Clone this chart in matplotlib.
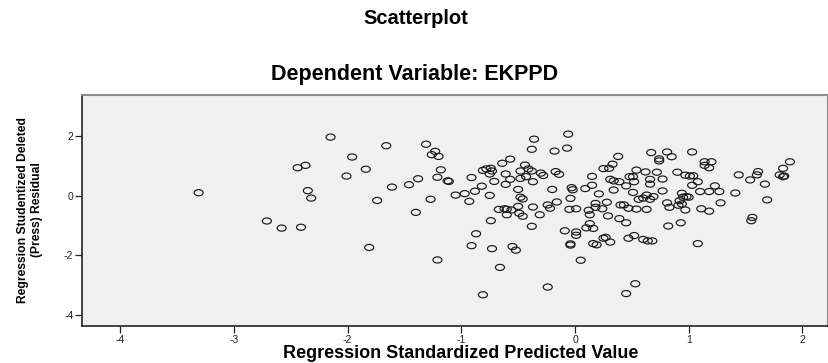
import matplotlib
matplotlib.use("Agg")
import matplotlib.pyplot as plt
from matplotlib.markers import MarkerStyle
from matplotlib.transforms import Affine2D

predicted = [
    -3.31, -2.44, -2.37, -2.35, -2.32, -2.71, -2.58, -2.41, -2.15, -1.66,
    -1.31, -1.23, -1.26, -1.20, -1.96, -1.84, -2.01, -1.61, -1.46, -1.38,
    -1.18, -1.21, -1.74, -1.27, -1.40, -1.81, -1.21, -1.12, -1.11,
    -0.36, -0.38, -0.57, -0.64, -0.44, -0.81, -0.78, -0.74, -0.73, -0.75,
    -0.61, -0.48, -0.41, -0.38, -0.30, -0.28, -0.91, -0.71, -0.57, -0.48,
    -0.43, -0.37, -0.61, -0.82, -0.88, -0.97, -1.05, -0.93, -0.75, -0.50,
    -0.48, -0.46, -0.50, -0.37, -0.67, -0.62, -0.60, -0.56, -0.60, -0.49,
    -0.46, -0.31, -0.74, -0.38, -0.87, -0.91, -0.73, -0.55, -0.52, -0.66,
    -0.81,
    -0.06, -0.18, -0.07, 0.38, 0.33, 0.25, 0.30, 0.54, -0.17, -0.14,
    0.15, -0.20, -0.03, -0.02, 0.09, 0.15, 0.31, 0.34, 0.21, 0.34,
    0.39, 0.48, 0.51, 0.45, 0.52, 0.51, 0.56, 0.60, -0.04, -0.16,
    -0.24, -0.22, -0.05, 0.01, 0.12, 0.13, 0.18, 0.18, 0.24, 0.28,
    0.40, 0.43, 0.47, 0.54, 0.29, 0.39, 0.45, 0.13, 0.10, 0.16,
    -0.09, 0.01, 0.01, -0.04, -0.04, 0.16, 0.19, 0.25, 0.27, 0.31,
    0.47, 0.52, 0.05, -0.24, 0.53, 0.45,
    0.67, 0.81, 0.85, 0.74, 0.74, 1.03, 1.14, 1.20, 1.14, 1.18,
    1.44, 0.62, 0.72, 0.90, 0.97, 1.01, 1.04, 0.66, 0.77, 1.08,
    1.03, 1.23, 1.10, 1.18, 1.27, 1.41, 0.77, 0.66, 0.63, 0.69,
    0.66, 0.94, 0.95, 0.98, 1.00, 0.92, 0.94, 0.81, 0.83, 0.91,
    0.97, 1.28, 1.11, 1.18, 0.63, 0.82, 0.93, 0.60, 0.64, 0.68,
    1.08,
    1.89, 1.83, 1.80, 1.83, 1.84, 1.61, 1.60, 1.54, 1.67, 1.69,
    1.56, 1.55,
]

residual = [
    0.10, 0.94, 1.02, 0.17, -0.08, -0.85, -1.09, -1.06, 1.97, 1.68,
    1.73, 1.49, 1.38, 1.32, 1.30, 0.89, 0.66, 0.29, 0.37, 0.57,
    0.87, 0.62, -0.16, -0.12, -0.56, -1.74, -2.16, 0.50, 0.48,
    1.90, 1.56, 1.23, 1.09, 1.03, 0.85, 0.90, 0.92, 0.83, 0.73,
    0.73, 0.83, 0.90, 0.83, 0.76, 0.68, 0.61, 0.48, 0.55, 0.58,
    0.64, 0.47, 0.38, 0.32, 0.15, 0.07, 0.02, -0.19, 0.01, 0.21,
    -0.05, -0.11, -0.36, -0.38, -0.46, -0.44, -0.46, -0.48, -0.64, -0.59,
    -0.69, -0.64, -0.84, -1.03, -1.28, -1.68, -1.78, -1.71, -1.83, -2.41,
    -3.33,
    2.07, 1.50, 1.60, 1.32, 1.06, 0.91, 0.92, 0.86, 0.81, 0.72,
    0.65, 0.21, 0.27, 0.20, 0.24, 0.35, 0.55, 0.50, 0.06, 0.19,
    0.47, 0.64, 0.64, 0.33, 0.47, 0.11, -0.12, -0.08, -0.09, -0.21,
    -0.31, -0.42, -0.46, -0.44, -0.49, -0.64, -0.26, -0.39, -0.44, -0.22,
    -0.31, -0.31, -0.42, -0.45, -0.68, -0.77, -0.91, -0.94, -1.08, -1.10,
    -1.18, -1.22, -1.33, -1.62, -1.66, -1.61, -1.65, -1.43, -1.40, -1.56,
    -1.43, -1.34, -2.17, -3.07, -2.96, -3.29,
    1.45, 1.47, 1.31, 1.24, 1.17, 1.47, 1.14, 1.14, 1.02, 0.94,
    0.70, 0.80, 0.79, 0.79, 0.69, 0.66, 0.67, 0.55, 0.56, 0.47,
    0.35, 0.33, 0.14, 0.14, 0.14, 0.09, 0.16, 0.39, 0.02, -0.03,
    -0.12, 0.08, -0.05, -0.03, -0.05, -0.17, -0.28, -0.24, -0.39, -0.32,
    -0.48, -0.24, -0.44, -0.52, -0.46, -1.02, -0.91, -1.47, -1.52, -1.52,
    -1.61,
    1.14, 0.92, 0.70, 0.64, 0.66, 0.81, 0.70, 0.53, 0.39, -0.14,
    -0.73, -0.84,
]

x_ticks = [-4, -3, -2, -1, 0, 1, 2]
y_ticks = [-4, -2, 0, 2]

title_main = "Scatterplot"
title_sub = "Dependent Variable: EKPPD"
x_label = "Regression Standardized Predicted Value"
y_label = "Regression Studentized Deleted\n(Press) Residual"

plt.rcParams['font.family'] = ['Liberation Sans', 'DejaVu Sans']

W, H = 829, 363
fig = plt.figure(figsize=(W / 100, H / 100), dpi=100)
left, right, top, bottom = 82, 828, 95, 326
ax = fig.add_axes([left / W, 1 - bottom / H, (right - left) / W, (bottom - top) / H])
ax.set_facecolor('#f0f0f0')

marker = MarkerStyle('o', transform=Affine2D().scale(1.0, 0.68))
ax.scatter(predicted, residual, s=42, marker=marker, facecolors='none',
           edgecolors='#1a1a1a', linewidths=0.85)

ax.set_xlim(-4.336, 2.225)
ax.set_ylim(-4.38, 3.385)
ax.set_xticks(x_ticks)
ax.set_yticks(y_ticks)
ax.set_xticklabels([str(v) for v in x_ticks])
ax.set_yticklabels([str(v) for v in y_ticks])
ax.tick_params(axis='both', direction='out', length=5, width=0.9,
               labelsize=7.5, colors='#222222', pad=1.2)

for side in ['left', 'bottom']:
    ax.spines[side].set_color('#222222')
    ax.spines[side].set_linewidth(1.2)
for side in ['top', 'right']:
    ax.spines[side].set_color('#8c8c8c')
    ax.spines[side].set_linewidth(1.5)

fig.text(416 / W, 1 - 19 / H, title_main, ha='center', va='center',
         fontsize=14.5, fontweight='bold')
fig.text(415 / W, 1 - 74.5 / H, title_sub, ha='center', va='center',
         fontsize=15.5, fontweight='bold')
fig.text(461 / W, 1 - 354 / H, x_label, ha='center', va='center',
         fontsize=13, fontweight='bold')
fig.text(30 / W, 1 - 210 / H, y_label, ha='center', va='center',
         rotation=90, fontsize=8.7, fontweight='bold', multialignment='center',
         linespacing=1.3)

fig.savefig('out.png', dpi=100)
